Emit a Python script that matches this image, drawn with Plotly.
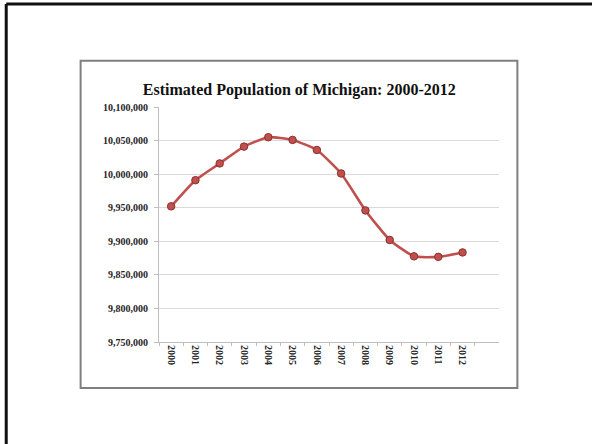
import plotly.graph_objects as go

# Estimated population of Michigan by year
years = ["2000", "2001", "2002", "2003", "2004", "2005", "2006",
         "2007", "2008", "2009", "2010", "2011", "2012"]
population = [9952000, 9991000, 10016000, 10041000, 10055000, 10051000,
              10036000, 10001000, 9946000, 9902000, 9877600, 9876800, 9883400]
# one empty slot after the last year, as in the original spreadsheet chart
x_slots = years + ["2013"]

y_ticks = [9750000, 9800000, 9850000, 9900000, 9950000,
           10000000, 10050000, 10100000]

W, H = 592, 444
L, R, T, B = 158.5, 499, 107.3, 342  # plot area in pixels


def px(x):
    return (x - L) / (R - L)


def py(y):
    return (B - y) / (B - T)


tick_font = dict(family="Liberation Serif", size=10, color="#262626",
                 weight="bold")

fig = go.Figure()
fig.add_trace(go.Scatter(
    x=years, y=population, mode="lines+markers",
    line=dict(color="#C0504D", width=2.6, shape="spline", smoothing=0.5),
    marker=dict(size=7.5, color="#C0504D", line=dict(color="#8C2F2C", width=1)),
    hoverinfo="x+y",
))

fig.update_layout(
    width=W, height=H,
    margin=dict(l=L, r=W - R, t=T, b=H - B),
    paper_bgcolor="white", plot_bgcolor="white",
    showlegend=False,
    title=dict(text="<b>Estimated Population of Michigan: 2000-2012</b>",
               x=px(299), xref="paper", xanchor="center",
               y=1 - 89 / H, yanchor="middle",
               font=dict(family="Liberation Serif", size=16, color="#111111")),
    xaxis=dict(
        type="category", categoryorder="array", categoryarray=x_slots,
        range=[-0.5, len(x_slots) - 0.5],
        tickmode="array", tickvals=years, ticktext=years,
        tickangle=90, tickson="boundaries",
        ticks="outside", ticklen=3, tickcolor="#BFBFBF",
        showline=True, linecolor="#BFBFBF", linewidth=1,
        showgrid=False, zeroline=False,
        tickfont=tick_font,
    ),
    yaxis=dict(
        range=[9750000, 10100000], tickvals=y_ticks, tickformat=",d",
        ticks="outside", ticklen=4, tickcolor="#BFBFBF",
        showline=True, linecolor="#BFBFBF", linewidth=1,
        showgrid=True, gridcolor="#D9D9D9", gridwidth=1, zeroline=False,
        ticklabelstandoff=4,
        tickfont=tick_font,
    ),
    shapes=[
        # chart frame
        dict(type="rect", xref="paper", yref="paper",
             x0=px(80), x1=px(517.4), y0=py(388), y1=py(61),
             line=dict(color="#7F7F7F", width=2), layer="below"),
        # slide border (top and left edges)
        dict(type="line", xref="paper", yref="paper",
             x0=px(5.5), x1=px(700), y0=py(4.5), y1=py(4.5),
             line=dict(color="#111111", width=3)),
        dict(type="line", xref="paper", yref="paper",
             x0=px(5.5), x1=px(5.5), y0=py(4.5), y1=py(600),
             line=dict(color="#111111", width=3)),
    ],
)

fig.write_html("out.html")
